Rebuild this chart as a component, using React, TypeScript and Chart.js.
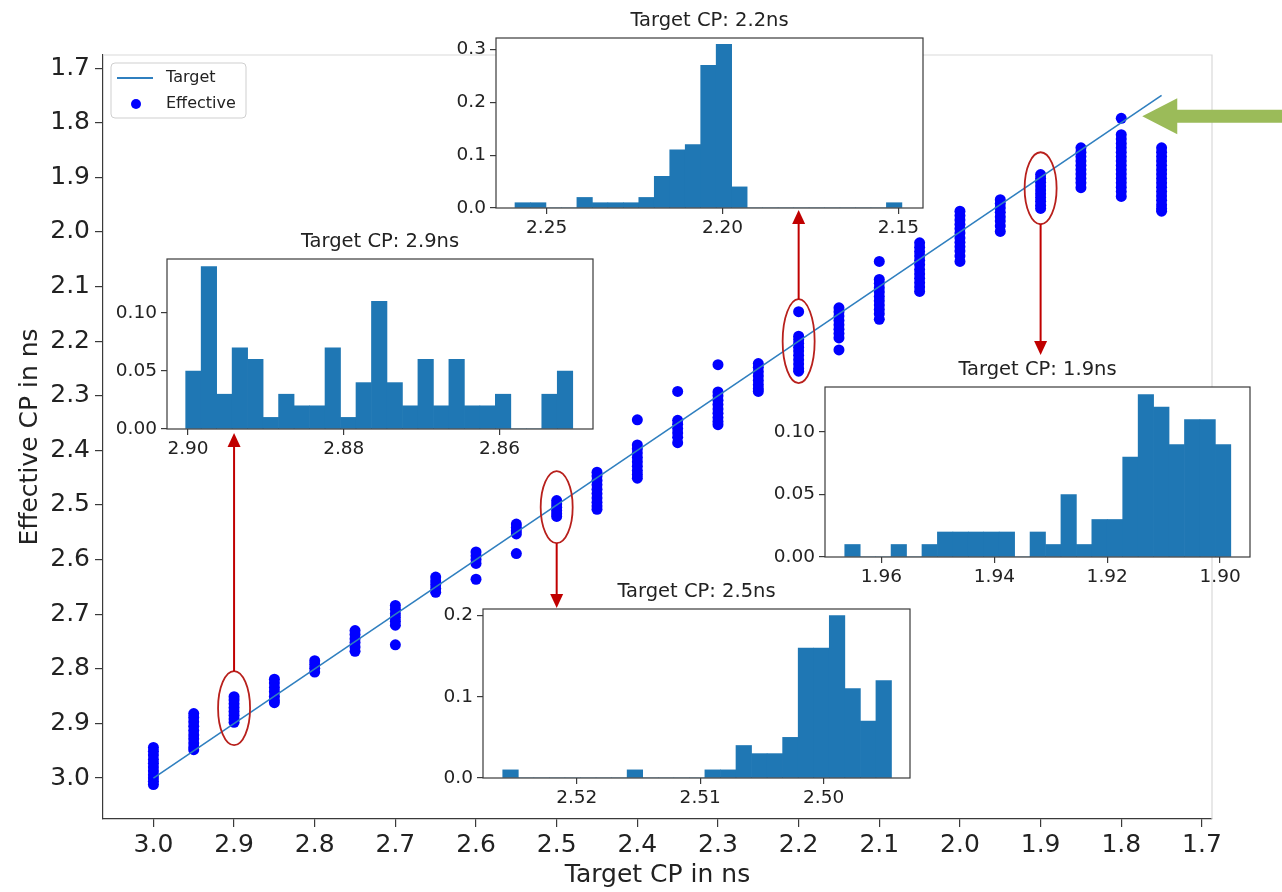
import React, { useEffect, useRef } from 'react';
import { Chart, registerables } from 'chart.js';
Chart.register(...registerables);

const FONT = "'DejaVu Sans', 'Liberation Sans', sans-serif";
const TEXT = '#222222';
const SPINE = '#3a3a3a';
const LINE_COLOR = '#2f7fbf';
const DOT_COLOR = '#0000ff';
const BAR_COLOR = '#1f77b4';

// ---------- main scatter data ----------
const targetCP = [3.0, 2.95, 2.9, 2.85, 2.8, 2.75, 2.7, 2.65, 2.6, 2.55, 2.5, 2.45, 2.4, 2.35, 2.3, 2.25, 2.2, 2.15, 2.1, 2.05, 2.0, 1.95, 1.9, 1.85, 1.8, 1.75];
const effectiveCP: number[][] = [
  [2.944, 2.951, 2.958, 2.966, 2.973, 2.98, 2.987, 2.994, 3.0, 3.006, 3.012],
  [2.882, 2.889, 2.897, 2.905, 2.913, 2.921, 2.928, 2.936, 2.943, 2.948],
  [2.851, 2.857, 2.864, 2.871, 2.878, 2.885, 2.892, 2.898],
  [2.819, 2.826, 2.834, 2.842, 2.85, 2.857, 2.862],
  [2.785, 2.792, 2.799, 2.806],
  [2.73, 2.737, 2.745, 2.752, 2.76, 2.768],
  [2.684, 2.691, 2.699, 2.706, 2.713, 2.72, 2.756],
  [2.632, 2.639, 2.646, 2.653, 2.66],
  [2.586, 2.593, 2.6, 2.607, 2.636],
  [2.535, 2.541, 2.547, 2.553, 2.589],
  [2.492, 2.498, 2.504, 2.51, 2.516, 2.521],
  [2.44, 2.447, 2.455, 2.463, 2.471, 2.479, 2.487, 2.495, 2.502, 2.508],
  [2.344, 2.39, 2.397, 2.405, 2.413, 2.421, 2.429, 2.437, 2.444, 2.451],
  [2.292, 2.345, 2.352, 2.36, 2.368, 2.376, 2.386],
  [2.243, 2.293, 2.3, 2.308, 2.316, 2.324, 2.332, 2.34, 2.347, 2.353],
  [2.241, 2.248, 2.256, 2.264, 2.272, 2.28, 2.287, 2.292],
  [2.146, 2.191, 2.197, 2.204, 2.211, 2.218, 2.226, 2.234, 2.242, 2.25, 2.255],
  [2.139, 2.146, 2.154, 2.162, 2.17, 2.178, 2.186, 2.194, 2.216],
  [2.054, 2.087, 2.094, 2.102, 2.11, 2.118, 2.126, 2.134, 2.142, 2.15, 2.16],
  [2.02, 2.028, 2.036, 2.044, 2.052, 2.06, 2.069, 2.077, 2.085, 2.093, 2.101, 2.109],
  [1.962, 1.97, 1.978, 1.986, 1.994, 2.002, 2.011, 2.019, 2.027, 2.035, 2.044, 2.054],
  [1.941, 1.948, 1.956, 1.964, 1.972, 1.98, 1.989, 1.999],
  [1.895, 1.902, 1.909, 1.916, 1.923, 1.93, 1.937, 1.944, 1.951, 1.957],
  [1.846, 1.854, 1.862, 1.87, 1.878, 1.886, 1.894, 1.902, 1.91, 1.919],
  [1.792, 1.822, 1.83, 1.838, 1.846, 1.854, 1.862, 1.87, 1.878, 1.886, 1.894, 1.902, 1.91, 1.918, 1.926, 1.935],
  [1.846, 1.854, 1.862, 1.87, 1.878, 1.886, 1.894, 1.902, 1.91, 1.918, 1.926, 1.934, 1.942, 1.95, 1.957, 1.962],
];
const targetLine = [3.0, 1.75];
const xTickValues = [3.0, 2.9, 2.8, 2.7, 2.6, 2.5, 2.4, 2.3, 2.2, 2.1, 2.0, 1.9, 1.8, 1.7];
const yTickValues = [1.7, 1.8, 1.9, 2.0, 2.1, 2.2, 2.3, 2.4, 2.5, 2.6, 2.7, 2.8, 2.9, 3.0];

// highlighted columns (target, centre of effective spread)
const highlightTargets = [2.9, 2.5, 2.2, 1.9];
const highlightCentres = [2.872, 2.504, 2.2, 1.92];

// ---------- histogram insets ----------
const hist29Values = [0.05, 0.14, 0.03, 0.07, 0.06, 0.01, 0.03, 0.02, 0.02, 0.07, 0.01, 0.04, 0.11, 0.04, 0.02, 0.06, 0.02, 0.06, 0.02, 0.02, 0.03, 0, 0, 0.03, 0.05];
const hist29Edges = [2.9003, 2.8506];
const hist29XTicks = [2.90, 2.88, 2.86];
const hist29YTicks = [0, 0.05, 0.10];

const hist22Values = [0.01, 0.01, 0, 0, 0.02, 0.01, 0.01, 0.01, 0.02, 0.06, 0.11, 0.12, 0.27, 0.31, 0.04, 0, 0, 0, 0, 0, 0, 0, 0, 0, 0.01];
const hist22Edges = [2.259, 2.149];
const hist22XTicks = [2.25, 2.20, 2.15];
const hist22YTicks = [0, 0.1, 0.2, 0.3];

const hist19Values = [0.01, 0, 0, 0.01, 0, 0.01, 0.02, 0.02, 0.02, 0.02, 0.02, 0, 0.02, 0.01, 0.05, 0.01, 0.03, 0.03, 0.08, 0.13, 0.12, 0.09, 0.11, 0.11, 0.09];
const hist19Edges = [1.9665, 1.8981];
const hist19XTicks = [1.96, 1.94, 1.92, 1.90];
const hist19YTicks = [0, 0.05, 0.10];

const hist25Values = [0.01, 0, 0, 0, 0, 0, 0, 0, 0.01, 0, 0, 0, 0, 0.01, 0.01, 0.04, 0.03, 0.03, 0.05, 0.16, 0.16, 0.20, 0.11, 0.07, 0.12];
const hist25Edges = [2.526, 2.4945];
const hist25XTicks = [2.52, 2.51, 2.50];
const hist25YTicks = [0, 0.1, 0.2];

// ---------- layout (pixels) ----------
const W = 1282;
const H = 892;
const box29 = { left: 167, top: 259, right: 593, bottom: 429 };
const box22 = { left: 496, top: 38, right: 923, bottom: 208 };
const box19 = { left: 825, top: 387, right: 1250, bottom: 557 };
const box25 = { left: 483, top: 609, right: 910, bottom: 778 };

function drawArrow(ctx: CanvasRenderingContext2D, x: number, y0: number, y1: number, color: string) {
  const dir = Math.sign(y1 - y0);
  const head = 14;
  const half = 6.5;
  ctx.strokeStyle = color;
  ctx.lineWidth = 2;
  ctx.beginPath();
  ctx.moveTo(x, y0);
  ctx.lineTo(x, y1 - dir * head);
  ctx.stroke();
  ctx.fillStyle = color;
  ctx.beginPath();
  ctx.moveTo(x, y1);
  ctx.lineTo(x - half, y1 - dir * head);
  ctx.lineTo(x + half, y1 - dir * head);
  ctx.closePath();
  ctx.fill();
}

const mainDecor = {
  id: 'mainDecor',
  afterDraw(chart: any) {
    const { ctx, chartArea, scales } = chart;
    const xs = scales.x;
    const ys = scales.y;
    ctx.save();
    // light top / right spines
    ctx.strokeStyle = '#d9d9d9';
    ctx.lineWidth = 1.2;
    ctx.beginPath();
    ctx.moveTo(chartArea.left, chartArea.top);
    ctx.lineTo(chartArea.right, chartArea.top);
    ctx.lineTo(chartArea.right, chartArea.bottom);
    ctx.stroke();

    // legend
    const ds = chart.data.datasets;
    const lx = 111, ly = 63, lw = 135, lh = 55;
    ctx.fillStyle = 'rgba(255,255,255,0.85)';
    ctx.strokeStyle = '#cfcfcf';
    ctx.lineWidth = 1;
    ctx.beginPath();
    (ctx as any).roundRect(lx, ly, lw, lh, 4);
    ctx.fill();
    ctx.stroke();
    ctx.strokeStyle = LINE_COLOR;
    ctx.lineWidth = 1.8;
    ctx.beginPath();
    ctx.moveTo(lx + 6, ly + 15);
    ctx.lineTo(lx + 42, ly + 15);
    ctx.stroke();
    ctx.fillStyle = DOT_COLOR;
    ctx.beginPath();
    ctx.arc(lx + 25, ly + 41, 5, 0, Math.PI * 2);
    ctx.fill();
    ctx.fillStyle = TEXT;
    ctx.font = `16px ${FONT}`;
    ctx.textBaseline = 'middle';
    ctx.textAlign = 'left';
    ctx.fillText(ds[0].label, lx + 55, ly + 15);
    ctx.fillText(ds[1].label, lx + 55, ly + 41);

    // ellipses around highlighted columns
    const ry = [37, 36, 42, 36];
    const ends = [box29.bottom + 4, box25.top - 1, box22.bottom + 2, box19.top - 32];
    highlightTargets.forEach((t, i) => {
      const cx = xs.getPixelForValue(t);
      const cy = ys.getPixelForValue(highlightCentres[i]);
      ctx.strokeStyle = '#b8201c';
      ctx.lineWidth = 1.8;
      ctx.beginPath();
      ctx.ellipse(cx, cy, 16, ry[i], 0, 0, Math.PI * 2);
      ctx.stroke();
      const end = ends[i];
      const start = end < cy ? cy - ry[i] : cy + ry[i];
      drawArrow(ctx, cx, start, end, '#c00000');
    });

    // green pointer to the 1.8 ns point
    const tipX = xs.getPixelForValue(1.8) + 21;
    const tipY = ys.getPixelForValue(1.792) - 2;
    ctx.fillStyle = '#9bbb59';
    ctx.beginPath();
    ctx.moveTo(tipX, tipY);
    ctx.lineTo(tipX + 35, tipY - 18);
    ctx.lineTo(tipX + 35, tipY - 6.5);
    ctx.lineTo(W + 5, tipY - 6.5);
    ctx.lineTo(W + 5, tipY + 6.5);
    ctx.lineTo(tipX + 35, tipY + 6.5);
    ctx.lineTo(tipX + 35, tipY + 18);
    ctx.closePath();
    ctx.fill();
    ctx.restore();
  },
};

function MainChart() {
  const ref = useRef<HTMLCanvasElement>(null);
  useEffect(() => {
    const points = targetCP.flatMap((t, i) => effectiveCP[i].map((v) => ({ x: t, y: v })));
    const axisCommon = {
      type: 'linear' as const,
      reverse: true,
      grid: { drawOnChartArea: false, drawTicks: true, tickLength: 8, color: SPINE, lineWidth: 1.2 },
      border: { display: true, color: SPINE, width: 1.2 },
    };
    const chart = new Chart(ref.current as HTMLCanvasElement, {
      type: 'scatter',
      data: {
        datasets: [
          {
            type: 'line',
            label: 'Target',
            data: targetLine.map((v) => ({ x: v, y: v })),
            borderColor: LINE_COLOR,
            borderWidth: 1.6,
            pointRadius: 0,
            fill: false,
            order: 0,
          } as any,
          {
            type: 'scatter',
            label: 'Effective',
            data: points,
            backgroundColor: DOT_COLOR,
            borderWidth: 0,
            pointRadius: 5.5,
            order: 1,
          },
        ],
      },
      options: {
        responsive: false,
        animation: false,
        events: [],
        layout: { padding: { top: 55, right: 70, left: 0, bottom: 0 } },
        plugins: { legend: { display: false }, tooltip: { enabled: false } },
        scales: {
          x: {
            ...axisCommon,
            min: 1.6875,
            max: 3.0625,
            afterBuildTicks: (s: any) => { s.ticks = xTickValues.map((v) => ({ value: v })); },
            afterFit: (s: any) => { s.height = 73; },
            ticks: { font: { family: FONT, size: 25 }, color: TEXT, padding: 3, maxRotation: 0, autoSkip: false, callback: (v: any) => Number(v).toFixed(1) },
            title: { display: true, text: 'Target CP in ns', font: { family: FONT, size: 25 }, color: TEXT, padding: { top: 0, bottom: 2 } },
          },
          y: {
            ...axisCommon,
            min: 1.676,
            max: 3.075,
            afterBuildTicks: (s: any) => { s.ticks = yTickValues.map((v) => ({ value: v })); },
            afterFit: (s: any) => { s.width = 103; },
            ticks: { font: { family: FONT, size: 25 }, color: TEXT, padding: 5, autoSkip: false, callback: (v: any) => Number(v).toFixed(1) },
            title: { display: true, text: 'Effective CP in ns', font: { family: FONT, size: 25 }, color: TEXT, padding: { top: 15, bottom: 0 } },
          },
        },
      } as any,
      plugins: [mainDecor],
    });
    return () => chart.destroy();
  }, []);
  return <canvas ref={ref} width={W} height={H} style={{ position: 'absolute', left: 0, top: 0, width: W, height: H }} />;
}

const insetDecor = {
  id: 'insetDecor',
  beforeDraw(chart: any) {
    const { ctx, chartArea } = chart;
    ctx.save();
    ctx.fillStyle = '#ffffff';
    ctx.fillRect(chartArea.left, chartArea.top, chartArea.right - chartArea.left, chartArea.bottom - chartArea.top);
    ctx.restore();
  },
  afterDraw(chart: any) {
    const { ctx, chartArea } = chart;
    const title = chart.options.plugins.insetDecor.title;
    ctx.save();
    ctx.strokeStyle = SPINE;
    ctx.lineWidth = 1.2;
    ctx.strokeRect(chartArea.left, chartArea.top, chartArea.right - chartArea.left, chartArea.bottom - chartArea.top);
    ctx.fillStyle = TEXT;
    ctx.font = `19.5px ${FONT}`;
    ctx.textAlign = 'center';
    ctx.textBaseline = 'middle';
    ctx.fillText(title, (chartArea.left + chartArea.right) / 2, chartArea.top - 17);
    ctx.restore();
  },
};

const PAD_TOP = 30;
const PAD_SIDE = 60;
const PAD_BOTTOM = 34;

function Inset(props: { title: string; values: number[]; edges: number[]; xTicks: number[]; yTicks: number[]; yDecimals: number; xMin: number; xMax: number; yMax: number; box: { left: number; top: number; right: number; bottom: number } }) {
  const ref = useRef<HTMLCanvasElement>(null);
  const { title, values, edges, xTicks, yTicks, yDecimals, xMin, xMax, yMax, box } = props;
  const w = box.right - box.left + PAD_SIDE * 2;
  const h = box.bottom - box.top + PAD_TOP + PAD_BOTTOM;
  useEffect(() => {
    const n = values.length;
    const step = (edges[1] - edges[0]) / n;
    const data = values.map((v, i) => ({ x: edges[0] + step * (i + 0.5), y: v }));
    const tickFont = { family: FONT, size: 18.5 };
    const chart = new Chart(ref.current as HTMLCanvasElement, {
      type: 'bar',
      data: { datasets: [{ data, backgroundColor: BAR_COLOR, borderWidth: 0, barPercentage: 1, categoryPercentage: 1 }] as any },
      options: {
        responsive: false,
        animation: false,
        events: [],
        layout: { padding: { top: PAD_TOP, right: PAD_SIDE, left: 0, bottom: 0 } },
        plugins: { legend: { display: false }, tooltip: { enabled: false }, insetDecor: { title } },
        scales: {
          x: {
            type: 'linear',
            reverse: true,
            offset: false,
            min: xMin,
            max: xMax,
            afterBuildTicks: (s: any) => { s.ticks = xTicks.map((v) => ({ value: v })); },
            afterFit: (s: any) => { s.height = PAD_BOTTOM; },
            ticks: { font: tickFont, color: TEXT, padding: 3, maxRotation: 0, autoSkip: false, callback: (v: any) => Number(v).toFixed(2) },
            grid: { offset: false, drawOnChartArea: false, drawTicks: true, tickLength: 6, color: SPINE, lineWidth: 1.2 },
            border: { display: false },
          },
          y: {
            type: 'linear',
            min: 0,
            max: yMax,
            afterBuildTicks: (s: any) => { s.ticks = yTicks.map((v) => ({ value: v })); },
            afterFit: (s: any) => { s.width = PAD_SIDE; },
            ticks: { font: tickFont, color: TEXT, padding: 4, autoSkip: false, callback: (v: any) => Number(v).toFixed(yDecimals) },
            grid: { drawOnChartArea: false, drawTicks: true, tickLength: 6, color: SPINE, lineWidth: 1.2 },
            border: { display: false },
          },
        },
      } as any,
      plugins: [insetDecor],
    });
    return () => chart.destroy();
  }, []);
  return <canvas ref={ref} width={w} height={h} style={{ position: 'absolute', left: box.left - PAD_SIDE, top: box.top - PAD_TOP, width: w, height: h }} />;
}

export default function App() {
  return (
    <div style={{ position: 'absolute', left: 0, top: 0, width: W, height: H, overflow: 'hidden', background: '#ffffff' }}>
      <MainChart />
      <Inset title="Target CP: 2.2ns" values={hist22Values} edges={hist22Edges} xTicks={hist22XTicks} yTicks={hist22YTicks} yDecimals={1} xMin={2.143} xMax={2.2644} yMax={0.322} box={box22} />
      <Inset title="Target CP: 2.9ns" values={hist29Values} edges={hist29Edges} xTicks={hist29XTicks} yTicks={hist29YTicks} yDecimals={2} xMin={2.848} xMax={2.9027} yMax={0.1466} box={box29} />
      <Inset title="Target CP: 1.9ns" values={hist19Values} edges={hist19Edges} xTicks={hist19XTicks} yTicks={hist19YTicks} yDecimals={2} xMin={1.8947} xMax={1.970} yMax={0.136} box={box19} />
      <Inset title="Target CP: 2.5ns" values={hist25Values} edges={hist25Edges} xTicks={hist25XTicks} yTicks={hist25YTicks} yDecimals={1} xMin={2.493} xMax={2.5276} yMax={0.208} box={box25} />
    </div>
  );
}
